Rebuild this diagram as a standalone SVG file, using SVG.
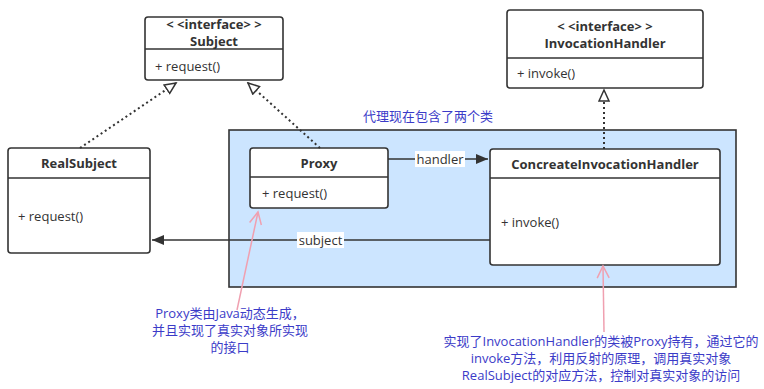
<svg xmlns="http://www.w3.org/2000/svg" width="764" height="389" viewBox="0 0 764 389">
<style>
.box{fill:#fff;stroke:#333;stroke-width:1.6}
.ln{stroke:#333;stroke-width:1.6;fill:none}
.t{font-family:"Open Sans","Noto Sans CJK SC",sans-serif;font-size:13px;fill:#333}
.b{font-weight:bold;text-anchor:middle}
.note{font-family:"Open Sans","Noto Sans CJK SC",sans-serif;font-size:13px;fill:#3b3bc8;text-anchor:middle}
.dot{stroke:#333;stroke-width:2;stroke-dasharray:2 3;fill:none}
.pink{stroke:#f0a0b0;stroke-width:1.5;fill:none}
.lbl{fill:#fff}
</style>
<defs>
<marker id="hollow" markerWidth="14" markerHeight="14" refX="12" refY="6" orient="auto" markerUnits="userSpaceOnUse">
<path d="M1,1 L12,6 L1,11 Z" fill="#fff" stroke="#333" stroke-width="1.5"/>
</marker>
<marker id="filled" markerWidth="14" markerHeight="14" refX="12" refY="6" orient="auto" markerUnits="userSpaceOnUse">
<path d="M0,1 L12,6 L0,11 Z" fill="#333"/>
</marker>
<marker id="open" markerWidth="16" markerHeight="16" refX="13" refY="7" orient="auto" markerUnits="userSpaceOnUse">
<path d="M1,1 L13,7 L1,13" fill="none" stroke="#f0a0b0" stroke-width="1.5"/>
</marker>
</defs>

<g id="container">
<rect x="229" y="130" width="507" height="157" fill="#cce5ff" stroke="#333" stroke-width="1.6"/>
<text class="note" x="428" y="121">代理现在包含了两个类</text>
</g>

<g id="subject">
<rect class="box" x="145" y="17" width="138" height="63" rx="3"/>
<line class="ln" x1="145" y1="49" x2="283" y2="49"/>
<text class="t b" x="214" y="29">&lt; &lt;interface&gt; &gt;</text>
<text class="t b" x="214" y="46">Subject</text>
<text class="t" x="155" y="71">+ request()</text>
</g>

<g id="invocationHandler">
<rect class="box" x="507" y="10" width="196" height="78" rx="3"/>
<line class="ln" x1="507" y1="58" x2="703" y2="58"/>
<text class="t b" x="605" y="31">&lt; &lt;interface&gt; &gt;</text>
<text class="t b" x="605" y="48">InvocationHandler</text>
<text class="t" x="517" y="78">+ invoke()</text>
</g>

<g id="realSubject">
<rect class="box" x="8" y="148" width="142" height="105" rx="3"/>
<line class="ln" x1="8" y1="178" x2="150" y2="178"/>
<text class="t b" x="79" y="168">RealSubject</text>
<text class="t" x="18" y="221">+ request()</text>
</g>

<g id="proxy">
<rect class="box" x="250" y="148" width="138" height="60" rx="3"/>
<line class="ln" x1="250" y1="177" x2="388" y2="177"/>
<text class="t b" x="319" y="168">Proxy</text>
<text class="t" x="262" y="198">+ request()</text>
</g>

<g id="concreteHandler">
<rect class="box" x="490" y="149" width="230" height="116" rx="3"/>
<line class="ln" x1="490" y1="178" x2="720" y2="178"/>
<text class="t b" x="605" y="169">ConcreateInvocationHandler</text>
<text class="t" x="501" y="227">+ invoke()</text>
</g>

<g id="connectors">
<line class="dot" x1="80" y1="148" x2="176" y2="83" marker-end="url(#hollow)"/>
<line class="dot" x1="320" y1="148" x2="248" y2="83" marker-end="url(#hollow)"/>
<line class="dot" x1="604" y1="149" x2="604" y2="90" marker-end="url(#hollow)"/>
<line class="ln" x1="388" y1="159" x2="488" y2="159" marker-end="url(#filled)"/>
<rect class="lbl" x="415" y="151" width="50" height="16"/>
<text class="t" x="440" y="164" text-anchor="middle">handler</text>
<line class="ln" x1="490" y1="240" x2="152" y2="240" marker-end="url(#filled)"/>
<rect class="lbl" x="297" y="232" width="47" height="16"/>
<text class="t" x="320.5" y="245" text-anchor="middle">subject</text>
<line class="pink" x1="237" y1="310" x2="258" y2="212" marker-end="url(#open)"/>
<line class="pink" x1="604" y1="332" x2="603" y2="266" marker-end="url(#open)"/>
</g>

<g id="note1">
<text class="note" x="230" y="318">Proxy类由Java动态生成，</text>
<text class="note" x="230" y="335">并且实现了真实对象所实现</text>
<text class="note" x="230" y="352">的接口</text>
</g>

<g id="note2">
<text class="note" x="601" y="346">实现了InvocationHandler的类被Proxy持有，通过它的</text>
<text class="note" x="601" y="363">invoke方法，利用反射的原理，调用真实对象</text>
<text class="note" x="601" y="380">RealSubject的对应方法，控制对真实对象的访问</text>
</g>
</svg>
